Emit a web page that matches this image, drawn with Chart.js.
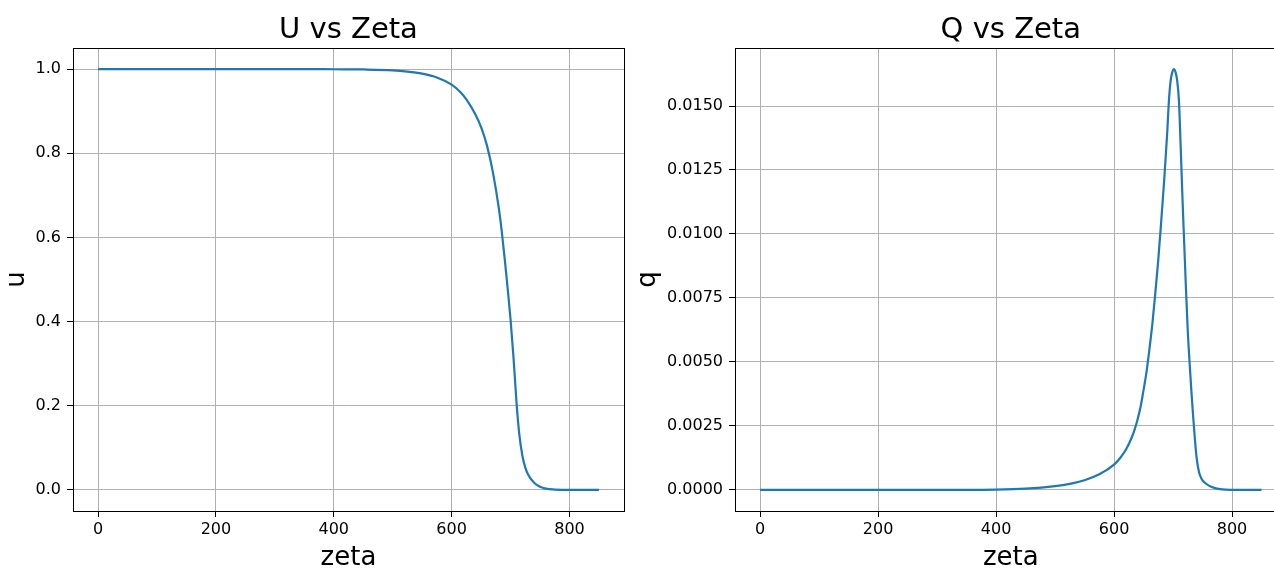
<!DOCTYPE html>
<html>
<head>
<meta charset="utf-8">
<script src="https://cdn.jsdelivr.net/npm/chart.js"></script>
<style>
  html, body { margin: 0; padding: 0; background: #fff; overflow: hidden; }
  body { width: 1274px; height: 568px; position: relative; }
  canvas { position: absolute; top: 0; }
  #u-chart { left: 0; }
  #q-chart { left: 630px; }
</style>
</head>
<body>
<canvas id="u-chart" width="630" height="568"></canvas>
<canvas id="q-chart" width="680" height="568"></canvas>
<script>
// values
const zetaU = [0, 50, 100, 150, 200, 250, 300, 350, 400, 450, 500, 525, 550, 575, 600, 615, 625, 640, 650, 660,
  670, 680, 685, 690, 695, 700, 705, 710, 715, 720, 725, 730, 740, 750, 760, 775, 800, 825, 850];
const uValues = [1, 1, 1, 1, 1, 1, 1, 1, 0.9995, 0.999, 0.997, 0.994, 0.989, 0.98, 0.963, 0.945, 0.928, 0.893, 0.862, 0.818,
  0.755, 0.67, 0.615, 0.55, 0.48, 0.405, 0.315, 0.21, 0.13, 0.082, 0.053, 0.036, 0.017, 0.0075, 0.003, 0.001, 0, 0, 0];

const zetaQ = [0, 50, 100, 150, 200, 250, 300, 350, 400, 450, 500, 525, 550, 575, 600, 610, 620, 630, 635, 640,
  645, 650, 655, 660, 665, 670, 675, 680, 685, 690, 693, 696, 699, 701.5, 704, 707, 710, 713, 716, 719,
  722, 725, 728, 731, 734, 737, 740, 744, 748, 753, 760, 770, 780, 790, 800, 825, 850];
const qValues = [0, 0, 0, 0, 0, 0, 0, 0, 0.00001, 0.00005, 0.00015, 0.00024, 0.00038, 0.00061, 0.00099, 0.00124, 0.00157, 0.00205, 0.00237, 0.00276,
  0.00325, 0.0039, 0.0046, 0.0055, 0.0065, 0.0077, 0.009, 0.0105, 0.0121, 0.0139, 0.0152, 0.016, 0.01634, 0.01644, 0.01634, 0.016, 0.0152, 0.0134, 0.0114, 0.0096,
  0.0078, 0.0062, 0.005, 0.0039, 0.0029, 0.002, 0.00125, 0.0007, 0.00045, 0.0003, 0.00018, 0.00008, 0.00003, 0.00001, 0, 0, 0];

const zetaTicks = [0, 200, 400, 600, 800];
const uTicks = [0, 0.2, 0.4, 0.6, 0.8, 1.0];
const qTicks = [0, 0.0025, 0.005, 0.0075, 0.01, 0.0125, 0.015];

const FONT = "'DejaVu Sans', sans-serif";

// black box round the plot area, like matplotlib spines
const framePlugin = {
  id: 'frame',
  afterDatasetsDraw(chart) {
    const { ctx, chartArea: a } = chart;
    ctx.save();
    ctx.strokeStyle = '#000';
    ctx.lineWidth = 1;
    ctx.strokeRect(Math.round(a.left) + 0.5, Math.round(a.top) + 0.5,
      Math.round(a.right - a.left), Math.round(a.bottom - a.top));
    ctx.restore();
  }
};

function makeChart(id, opts) {
  const points = opts.xs.map((x, i) => ({ x: x, y: opts.ys[i] }));
  return new Chart(document.getElementById(id), {
    type: 'line',
    data: {
      datasets: [{
        data: points,
        borderColor: '#1f77b4',
        borderWidth: 2.2,
        pointRadius: 0,
        fill: false,
        cubicInterpolationMode: 'monotone'
      }]
    },
    plugins: [framePlugin],
    options: {
      responsive: false,
      animation: false,
      devicePixelRatio: 1,
      layout: { padding: { left: 0, right: opts.padRight, top: 0, bottom: 0 } },
      plugins: {
        legend: { display: false },
        tooltip: { enabled: false },
        title: {
          display: true,
          fullSize: false,   // centre the title over the plot area, not the canvas
          text: opts.title,
          color: '#000',
          font: { family: FONT, size: 29, weight: 'normal', lineHeight: 1.2 },
          padding: { top: 13, bottom: 0.2 }
        }
      },
      scales: {
        x: {
          type: 'linear',
          min: -42.5,
          max: 892.5,
          afterBuildTicks: s => { s.ticks = zetaTicks.map(v => ({ value: v })); },
          afterFit: s => { s.height = 57; },
          grid: { color: '#b0b0b0', lineWidth: 1, tickColor: '#000', tickLength: 6, tickWidth: 1 },
          border: { display: false },
          ticks: { color: '#000', font: { family: FONT, size: 16 }, padding: 3, maxRotation: 0,
            callback: v => String(v) },
          title: { display: true, text: 'zeta', color: '#000',
            font: { family: FONT, size: 26, lineHeight: 0.75 }, padding: 0 }
        },
        y: {
          type: 'linear',
          min: opts.yMin,
          max: opts.yMax,
          afterBuildTicks: s => { s.ticks = opts.yTicks.map(v => ({ value: v })); },
          afterFit: s => { s.width = opts.yWidth; },
          grid: { color: '#b0b0b0', lineWidth: 1, tickColor: '#000', tickLength: 6, tickWidth: 1 },
          border: { display: false },
          ticks: { color: '#000', font: { family: FONT, size: 16 }, padding: 6,
            callback: v => v.toFixed(opts.digits) },
          title: { display: true, text: opts.yLabel, color: '#000',
            font: { family: FONT, size: 26, lineHeight: 1.2 }, padding: { top: opts.yTitlePad, bottom: 0 } }
        }
      }
    }
  });
}

makeChart('u-chart', {
  xs: zetaU, ys: uValues, title: 'U vs Zeta', yLabel: 'u',
  yMin: -0.05, yMax: 1.05, yTicks: uTicks, digits: 1,
  yWidth: 73, padRight: 6, yTitlePad: 2
});

makeChart('q-chart', {
  xs: zetaQ, ys: qValues, title: 'Q vs Zeta', yLabel: 'q',
  yMin: -0.000822, yMax: 0.017266, yTicks: qTicks, digits: 4,
  yWidth: 105, padRight: 23.4, yTitlePad: 3
});
</script>
</body>
</html>
